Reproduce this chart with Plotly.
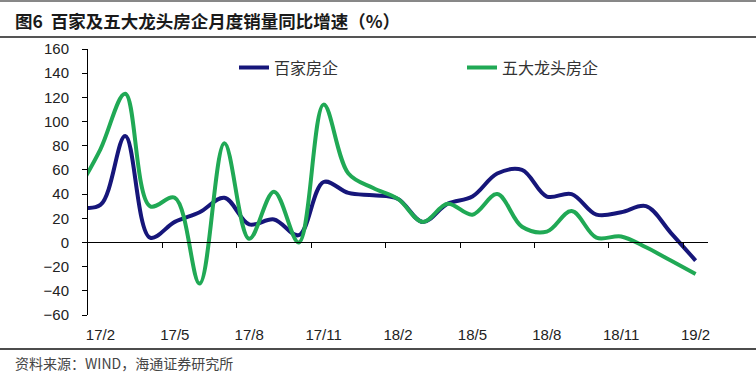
import plotly.graph_objects as go

# Months from 17/1 to 19/2 (17/1 lies just left of the visible axis)
months = ["17/1", "17/2", "17/3", "17/4", "17/5", "17/6", "17/7", "17/8", "17/9",
          "17/10", "17/11", "17/12", "18/1", "18/2", "18/3", "18/4", "18/5",
          "18/6", "18/7", "18/8", "18/9", "18/10", "18/11", "18/12", "19/1", "19/2"]
top100 = [30, 31, 88, 4, 17, 25, 37, 15, 19, 6, 50, 41, 39, 36, 17, 32, 38,
          57, 60, 38, 40, 23, 25, 30, 8, -15]
top5 = [40, 77, 123, 30, 37, -34, 82, 3, 42, 0, 114, 57, 45, 36, 17, 32, 23,
        40, 13, 9, 26, 4, 5, -4, -15, -26]
tick_labels = ["17/2", "17/5", "17/8", "17/11", "18/2", "18/5", "18/8", "18/11", "19/2"]
series_names = ["百家房企", "五大龙头房企"]

idx = list(range(len(months)))
label_pos = [months.index(t) for t in tick_labels]
boundary_ticks = [p + 2.5 for p in label_pos[:-1]]

W, H = 756, 379
ml, mr, mt, mb = 88, 48, 49, 64
pw, ph = W - ml - mr, H - mt - mb

def px_x(px):
    return (px - ml) / pw

def px_y(py):
    return (H - mb - py) / ph

fig = go.Figure()
fig.add_trace(go.Scatter(x=idx, y=top100, mode="lines", name=series_names[0],
                         line=dict(color="#16167A", width=4, shape="spline"),
                         legend="legend"))
fig.add_trace(go.Scatter(x=idx, y=top5, mode="lines", name=series_names[1],
                         line=dict(color="#20A955", width=4, shape="spline"),
                         legend="legend2"))
fig.add_trace(go.Scatter(x=[None], y=[None], xaxis="x2", showlegend=False,
                         hoverinfo="skip"))

tickfont = dict(family="Liberation Sans, Arial, sans-serif", size=15, color="#222")

fig.update_layout(
    width=W, height=H,
    margin=dict(l=ml, r=mr, t=mt, b=mb, autoexpand=False),
    paper_bgcolor="white", plot_bgcolor="white",
    title=dict(text="<b>图6  百家及五大龙头房企月度销量同比增速（%）</b>",
               x=15 / W, xanchor="left", xref="container",
               y=1 - 21.5 / H, yanchor="middle", yref="container",
               font=dict(family="Noto Sans CJK SC", size=17.5, color="#1a1a1a")),
    xaxis=dict(range=[0.5, 25.5], tickmode="array", tickvals=label_pos,
               ticktext=tick_labels, ticks="", showline=False, showgrid=False,
               zeroline=False, tickfont=tickfont, automargin=False,
               ticklabelstandoff=9),
    xaxis2=dict(overlaying="x", matches="x", anchor="free", position=60 / 220,
                showline=True, linecolor="#000", linewidth=1,
                ticks="outside", ticklen=5, tickcolor="#000", tickwidth=1,
                tickmode="array", tickvals=boundary_ticks, automargin=False,
                showticklabels=False, showgrid=False, zeroline=False),
    yaxis=dict(range=[-60, 160], dtick=20, tick0=0, showline=True,
               linecolor="#000", linewidth=1, ticks="outside", ticklen=5,
               tickcolor="#000", showgrid=False, zeroline=False,
               tickfont=tickfont, automargin=False, ticklabelstandoff=10),
    legend=dict(x=px_x(234), y=px_y(67.5), xanchor="left", yanchor="middle",
                orientation="h", bgcolor="rgba(0,0,0,0)",
                font=dict(family="Noto Sans CJK SC", size=16, color="#333")),
    legend2=dict(x=px_x(462), y=px_y(67.5), xanchor="left", yanchor="middle",
                 orientation="h", bgcolor="rgba(0,0,0,0)",
                 font=dict(family="Noto Sans CJK SC", size=16, color="#333")),
    showlegend=True,
)

fig.add_annotation(text="资料来源：WIND，海通证券研究所", xref="paper", yref="paper",
                   x=px_x(13), y=px_y(363), xanchor="left", yanchor="middle",
                   showarrow=False,
                   font=dict(family="Noto Sans CJK SC", size=14, color="#444"))

# decorative separator rules
fig.add_shape(type="line", xref="paper", yref="paper", x0=px_x(0), x1=px_x(W),
              y0=px_y(37), y1=px_y(37), line=dict(color="#555", width=2))
fig.add_shape(type="line", xref="paper", yref="paper", x0=px_x(0), x1=px_x(W),
              y0=px_y(349), y1=px_y(349), line=dict(color="#111", width=1.5))
fig.add_shape(type="line", xref="paper", yref="paper", x0=px_x(0), x1=px_x(W),
              y0=px_y(1), y1=px_y(1), line=dict(color="#111", width=1))

fig.write_html("out.html",
               config={"displayModeBar": False},
               post_script="document.body.style.margin='0';document.body.style.overflow='hidden';")
